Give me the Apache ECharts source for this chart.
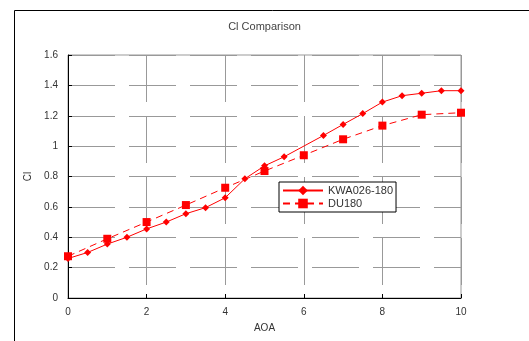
<!DOCTYPE html>
<html><head><meta charset="utf-8">
<script src="https://cdn.jsdelivr.net/npm/echarts@6/dist/echarts.min.js"></script>
<style>html,body{margin:0;padding:0;background:#fff}#c{width:529px;height:341px}</style>
</head><body><div id="c"></div>
<script>
var kwaX = [0,0.5,1,1.5,2,2.5,3,3.5,4,4.5,5,5.5,6.5,7,7.5,8,8.5,9,9.5,10];
var kwaY = [0.26,0.30,0.355,0.40,0.455,0.50,0.555,0.595,0.66,0.785,0.87,0.93,1.07,1.143,1.214,1.29,1.332,1.348,1.365,1.365];
var duX = [0,1,2,3,4,5,6,7,8,9,10];
var duY = [0.275,0.39,0.50,0.612,0.726,0.836,0.94,1.045,1.135,1.207,1.22];
var xTicks = [0,2,4,6,8,10];
var yTicks = [0,0.2,0.4,0.6,0.8,1,1.2,1.4,1.6];

function pairs(xs, ys){ return xs.map(function(x,i){return [x, ys[i]];}); }
var font = 'Liberation Sans, Arial, sans-serif';
var chart = echarts.init(document.getElementById('c'), null, {renderer:'canvas'});
chart.setOption({
  animation:false,
  textStyle:{fontFamily:font},
  title:{text:'Cl Comparison', left:'center', top:16, textStyle:{fontSize:11, fontWeight:'normal', color:'#444', fontFamily:font}},
  graphic:[{type:'rect', shape:{x:14.5,y:10.5,width:700,height:500}, style:{fill:'none', stroke:'#000', lineWidth:1}, silent:true, z:-10}],
  grid:{left:68, right:68, top:55, bottom:43, show:true, borderColor:'#999', borderWidth:1, backgroundColor:'transparent'},
  legend:{
    left:279, top:182, orient:'vertical', backgroundColor:'#fff', borderColor:'#000', borderWidth:1,
    padding:[3,3], itemGap:2, itemWidth:40, itemHeight:12,
    textStyle:{fontSize:11, color:'#333', fontFamily:font},
    data:['KWA026-180','DU180']
  },
  xAxis:{
    type:'value', min:0, max:10, interval:2, name:'AOA', nameLocation:'middle', nameGap:25,
    nameTextStyle:{fontSize:10, color:'#333'},
    axisLine:{lineStyle:{color:'#000', width:1}},
    axisTick:{inside:true, length:4, lineStyle:{color:'#000'}},
    axisLabel:{fontSize:10, color:'#333', margin:9, formatter:function(v){return xTicks.indexOf(v)>=0?String(v):'';}},
    splitLine:{show:true, lineStyle:{color:'#999', width:1, type:[47,14]}}
  },
  yAxis:{
    type:'value', min:0, max:1.6, interval:0.2, name:'Cl', nameLocation:'middle', nameGap:35, nameRotate:90,
    nameTextStyle:{fontSize:10, color:'#333'},
    axisLine:{show:true, lineStyle:{color:'#000', width:1}},
    axisTick:{show:true, inside:true, length:4, lineStyle:{color:'#000'}},
    axisLabel:{fontSize:10, color:'#333', margin:10, formatter:function(v){var r=Math.round(v*10)/10; return yTicks.indexOf(r)>=0?String(r):'';}},
    splitLine:{show:true, lineStyle:{color:'#999', width:1, type:[47,14]}}
  },
  series:[
    {name:'KWA026-180', type:'line', data:pairs(kwaX,kwaY), symbol:'diamond', symbolSize:7,
     lineStyle:{color:'#ff0000', width:1}, itemStyle:{color:'#ff0000'}, z:3},
    {name:'DU180', type:'line', data:pairs(duX,duY), symbol:'rect', symbolSize:8,
     lineStyle:{color:'#ff0000', width:1, type:[7,5]}, itemStyle:{color:'#ff0000'}, z:2}
  ]
});
</script></body></html>
